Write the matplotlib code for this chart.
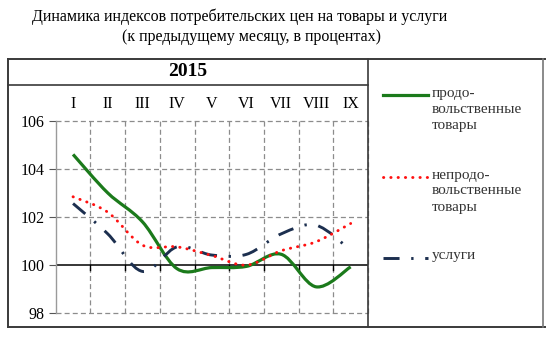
import numpy as np
import matplotlib
matplotlib.use("Agg")
import matplotlib.pyplot as plt
from matplotlib.path import Path
from matplotlib.patches import PathPatch
from matplotlib.lines import Line2D

plt.rcParams['font.family'] = ['Liberation Serif', 'DejaVu Serif']

months = ['I', 'II', 'III', 'IV', 'V', 'VI', 'VII', 'VIII', 'IX']
food = [104.6, 103.0, 101.8, 99.85, 99.9, 99.95, 100.45, 99.1, 99.93]
nonfood = [102.84, 102.2, 100.83, 100.76, 100.4, 100.0, 100.6, 100.97, 101.73]
services = [102.56, 101.3, 99.74, 100.76, 100.42, 100.45, 101.3, 101.66, 100.62]

W, H = 550, 340
GREEN = '#1b7a1b'
RED = '#ff1010'
NAVY = '#1c2f4f'


def px(x, y):
    # pixel position (from top-left) -> figure fraction
    return x / W, 1 - y / H


def smooth_path(xs, ys):
    # excel-like smoothed line: catmull-rom segments as cubic beziers
    pts = np.column_stack([xs, ys])
    p = np.vstack([pts[0], pts, pts[-1]])
    verts = [pts[0]]
    codes = [Path.MOVETO]
    for i in range(1, len(p) - 2):
        c1 = p[i] + (p[i + 1] - p[i - 1]) / 6
        c2 = p[i + 1] - (p[i + 2] - p[i]) / 6
        verts += [c1, c2, p[i + 1]]
        codes += [Path.CURVE4] * 3
    return Path(verts, codes)


fig = plt.figure(figsize=(W / 100, H / 100), dpi=100)

x0, y0 = px(55.7, 313.3)
x1, y1 = px(368, 120.7)
ax = fig.add_axes([x0, y0, x1 - x0, y1 - y0])
ax.set_xlim(0, 9)
ax.set_ylim(98, 106)

grid = dict(color='#8c8c8c', lw=0.9, ls=(0, (4, 2.5)))
for gx in range(1, 10):
    ax.axvline(gx, clip_on=False, **grid)
for gy in (98, 102, 104, 106):
    ax.axhline(gy, clip_on=False, **grid)
ax.axhline(100, color='black', lw=1.1, zorder=2)

for s in ('top', 'right', 'bottom'):
    ax.spines[s].set_visible(False)
ax.spines['left'].set_color('#9a9a9a')
ax.spines['left'].set_linewidth(1.0)

ax.set_yticks([98, 100, 102, 104, 106])
ax.tick_params(axis='y', direction='out', length=5, color='#555555',
               labelsize=11.5, pad=3)
ax.set_xticks([])
# small ticks hanging under the 100 line
for gx in range(1, 10):
    ax.plot([gx, gx], [100, 99.8], color='black', lw=1.0, zorder=2)

xs = np.arange(len(months)) + 0.5
for i, m in enumerate(months):
    ax.text(xs[i], 1.088, m, transform=ax.get_xaxis_transform(),
            ha='center', va='center', fontsize=11.5)

NAVY_LS = (0, (5.5, 4, 0.8, 4))
RED_LS = (0, (0.1, 2.4))

ax.add_patch(PathPatch(smooth_path(xs, food), fill=False, ec=GREEN,
                       lw=2.3, zorder=3))
ax.add_patch(PathPatch(smooth_path(xs, nonfood), fill=False, ec=RED,
                       lw=2.1, ls=RED_LS, capstyle='round', zorder=4))
ax.add_patch(PathPatch(smooth_path(xs, services), fill=False, ec=NAVY,
                       lw=2.1, ls=NAVY_LS, capstyle='butt', zorder=3))

# table frame
edge = '#3a3a3a'
fig.add_artist(Line2D(*zip(px(8, 59), px(545, 59)), color=edge, lw=1.4))
fig.add_artist(Line2D(*zip(px(8, 327), px(545, 327)), color=edge, lw=1.4))
fig.add_artist(Line2D(*zip(px(8, 59), px(8, 327)), color=edge, lw=1.4))
fig.add_artist(Line2D(*zip(px(368, 59), px(368, 327)), color=edge, lw=1.2))
fig.add_artist(Line2D(*zip(px(543, 59), px(543, 327)), color='#777777', lw=1.2))
fig.add_artist(Line2D(*zip(px(8, 85), px(368, 85)), color=edge, lw=1.2))

fig.text(*px(188, 72), '2015', ha='center', va='center', fontsize=14,
         fontweight='bold')

fig.text(*px(240, 17), 'Динамика индексов потребительских цен на товары и услуги',
         ha='center', va='center', fontsize=11.5)
fig.text(*px(252, 37), '(к предыдущему месяцу, в процентах)',
         ha='center', va='center', fontsize=11.5)

# legend
legend = [
    ('продо-\nвольственные\nтовары', 95, dict(color=GREEN, lw=2.3)),
    ('непродо-\nвольственные\nтовары', 176.5,
     dict(color=RED, lw=2.1, ls=RED_LS, dash_capstyle='round')),
    ('услуги', 257.5, dict(color=NAVY, lw=2.1, ls=NAVY_LS)),
]
for label, ly, style in legend:
    fig.add_artist(Line2D(*zip(px(383, ly), px(428, ly)), **style))
    fig.text(*px(432, ly - 8), label, ha='left', va='top', fontsize=11,
             linespacing=1.3, color='#333333')

fig.savefig('out.png', dpi=100)
